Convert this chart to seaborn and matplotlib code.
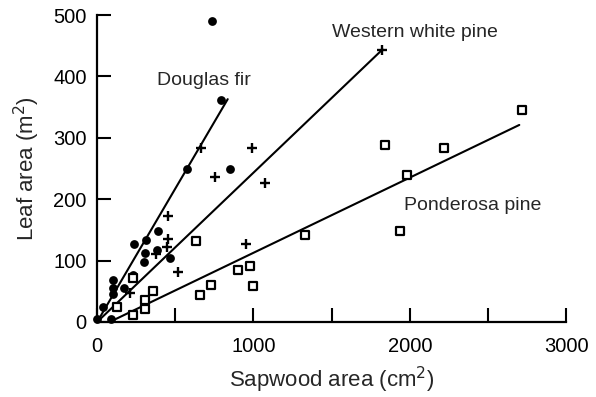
import matplotlib
matplotlib.use("Agg")
import matplotlib.pyplot as plt
import seaborn as sns
import pandas as pd

# Douglas fir (filled circles)
df_x = [0, 90, 40, 100, 100, 100, 170, 230, 235, 300, 305, 310, 385, 390, 465, 575, 735, 790, 850]
df_y = [5, 5, 25, 45, 55, 68, 55, 76, 127, 97, 112, 133, 117, 148, 105, 250, 490, 362, 250]

# Western white pine (plus)
wp_x = [212, 375, 445, 450, 450, 515, 663, 755, 955, 992, 1075, 1820]
wp_y = [47, 110, 122, 135, 172, 82, 284, 237, 127, 284, 226, 443]

# Ponderosa pine (open squares)
pp_x = [130, 230, 230, 305, 305, 360, 630, 655, 730, 900, 975, 1000, 1330, 1840, 1940, 1980, 2220, 2715]
pp_y = [25, 12, 71, 21, 36, 50, 132, 44, 61, 85, 92, 59, 142, 289, 148, 239, 284, 346]

# Fitted line end points
df_line_x = [0, 835]
df_line_y = [0, 363]
wp_line_x = [0, 1825]
wp_line_y = [0, 444]
pp_line_x = [80, 2700]
pp_line_y = [0, 321]

x_ticks = [0, 500, 1000, 1500, 2000, 2500, 3000]
x_tick_labels = ['0', '', '1000', '', '2000', '', '3000']
y_ticks = [0, 100, 200, 300, 400, 500]

sns.set_style("ticks")
plt.rcParams['font.family'] = ['Liberation Sans', 'DejaVu Sans']

fig = plt.figure(figsize=(5.96, 3.97), dpi=100)
ax = fig.add_axes([0.163, 0.189, 0.787, 0.773])

lw = 1.5
for lx, ly in [(df_line_x, df_line_y), (wp_line_x, wp_line_y), (pp_line_x, pp_line_y)]:
    sns.lineplot(x=lx, y=ly, ax=ax, color='black', linewidth=lw, sort=False)

sns.scatterplot(x=df_x, y=df_y, ax=ax, marker='o', s=40, color='black',
                edgecolor='black', linewidth=0, clip_on=False, zorder=3)
sns.scatterplot(x=wp_x, y=wp_y, ax=ax, marker='+', s=58, color='black',
                linewidth=1.7, clip_on=False, zorder=3)
sns.scatterplot(x=pp_x, y=pp_y, ax=ax, marker='s', s=30, facecolor='white',
                edgecolor='black', linewidth=1.6, clip_on=False, zorder=3)

ax.set_xlim(0, 3000)
ax.set_ylim(0, 500)
ax.set_xticks(x_ticks)
ax.set_xticklabels(x_tick_labels)
ax.set_yticks(y_ticks)
ax.tick_params(direction='in', length=10, width=1.5, labelsize=14.5, colors='black')
ax.tick_params(axis='x', pad=11)
ax.tick_params(axis='y', pad=7.5)
for side in ['left', 'bottom']:
    ax.spines[side].set_linewidth(1.6)
    ax.spines[side].set_color('black')
sns.despine(ax=ax)

ax.set_xlabel('Sapwood area (cm$^2$)', fontsize=16, labelpad=6)
ax.set_ylabel('Leaf area (m$^2$)', fontsize=16, labelpad=8)

ax.text(683, 394, 'Douglas fir', fontsize=14, ha='center', va='center')
ax.text(2035, 471, 'Western white pine', fontsize=14, ha='center', va='center')
ax.text(1962, 190, 'Ponderosa pine', fontsize=14, ha='left', va='center')

fig.savefig('out.png', dpi=100)
